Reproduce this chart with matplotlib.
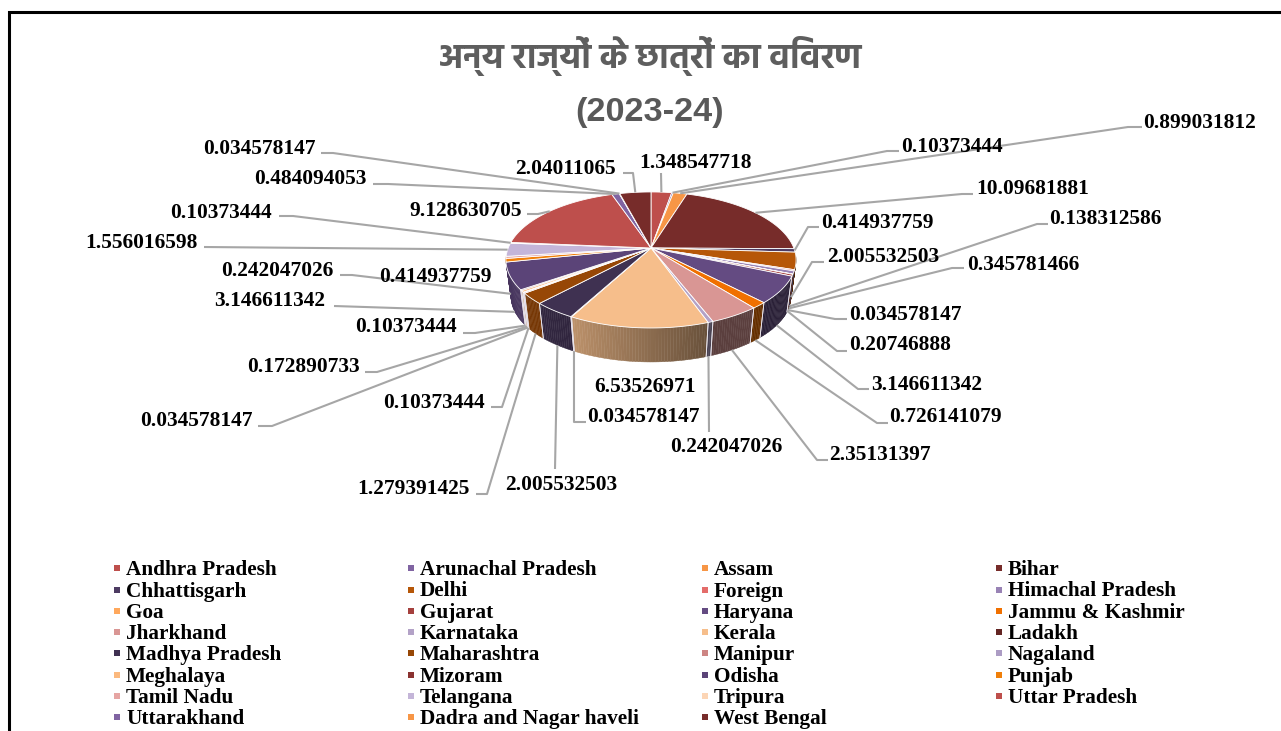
import numpy as np
import matplotlib
matplotlib.use('Agg')
import matplotlib.pyplot as plt

title_hi = 'अन्य राज्यों के छात्रों का विवरण'
title_year = '(2023-24)'

states = ['Andhra Pradesh', 'Arunachal Pradesh', 'Assam', 'Bihar', 'Chhattisgarh', 'Delhi', 'Foreign',
          'Himachal Pradesh', 'Goa', 'Gujarat', 'Haryana', 'Jammu & Kashmir', 'Jharkhand', 'Karnataka',
          'Kerala', 'Ladakh', 'Madhya Pradesh', 'Maharashtra', 'Manipur', 'Nagaland', 'Meghalaya',
          'Mizoram', 'Odisha', 'Punjab', 'Tamil Nadu', 'Telangana', 'Tripura', 'Uttar Pradesh',
          'Uttarakhand', 'Dadra and Nagar haveli', 'West Bengal']
values = [1.348547718, 0.10373444, 0.899031812, 10.09681881, 0.414937759, 2.005532503, 0.138312586,
          0.345781466, 0.034578147, 0.20746888, 3.146611342, 0.726141079, 2.35131397, 0.242047026,
          6.53526971, 0.034578147, 2.005532503, 1.279391425, 0.10373444, 0.034578147, 0.172890733,
          0.10373444, 3.146611342, 0.414937759, 0.242047026, 1.556016598, 0.10373444, 9.128630705,
          0.484094053, 0.034578147, 2.04011065]
colors = ['#BE4F4C', '#8064A2', '#F79646', '#772C2A', '#4D3B62', '#B65708', '#E46C6A', '#9983B5',
          '#FFA85C', '#A5403D', '#644B82', '#F07000', '#D99694', '#B3A2C7', '#F6BE8B', '#632523',
          '#3F3151', '#974706', '#CD8583', '#AC9CC4', '#FBB97E', '#8A3230', '#5B4478', '#F07F09',
          '#E6A5A3', '#C4B5D8', '#FCD5B5', '#BE4F4C', '#8064A2', '#F79646', '#772C2A']

# label left x / centre y, then the leader's elbow and end near the label (None = no leader)
label_xy = [(640, 161), (902, 145), (1144, 121), (977, 187), (822, 221), (828, 255), (1050, 217),
            (968, 263), (850, 313), (850, 343), (872, 383), (890, 415), (830, 453), (671, 445),
            (595, 385), (588, 415), (506, 483), (358, 487), (384, 401), (141, 419), (248, 365),
            (356, 325), (215, 299), (380, 275), (222, 269), (86, 241), (171, 211), (410, 209),
            (255, 177), (204, 147), (516, 167)]
leaders = [[(661, 173)], [(887, 151), (899, 151)], [(1128, 127), (1142, 127)], [(962, 194), (973, 194)],
           [(808, 227), (819, 227)], [(812, 262), (824, 262)], [(1037, 224), (1048, 224)],
           [(952, 268), (964, 268)], [(835, 319), (847, 319)], [(837, 351), (847, 351)],
           [(858, 389), (869, 389)], [(877, 423), (888, 423)], [(817, 460), (828, 460)], [(709, 432)],
           None, [(574, 422), (586, 422)], [(555, 469)], [(487, 494), (476, 494)],
           [(502, 407), (491, 407)], [(272, 426), (258, 426)], [(377, 372), (365, 372)],
           [(475, 333), (463, 333)], [(334, 306)], None, [(352, 275), (340, 275)], [(204, 247)],
           [(293, 216), (279, 216)], [(538, 214), (527, 214)], [(388, 184), (373, 184)],
           [(333, 153), (321, 153)], [(633, 173), (623, 173)]]

# pie camera
CX, CY = 651, 248
A, B, K = 142.8, 65.9, 0.176
DROP, SHRINK = 36.8, 0.965


def rim(theta, lower=False):
    t = np.radians(theta)
    w = 1 + K * np.cos(t)
    s = SHRINK if lower else 1.0
    d = DROP if lower else 0.0
    return CX + s * A * np.sin(t) / w, CY + d - s * B * np.cos(t) / w


def side_shade(theta):
    return np.interp(theta, [160, 210], [0.42, 0.78])


fig = plt.figure(figsize=(12.81, 7.31), dpi=100)
ax = fig.add_axes([0, 0, 1, 1])
ax.set_xlim(0, 1281)
ax.set_ylim(731, 0)
ax.axis('off')

# frame
ax.plot([9, 9, 1281], [731, 11.5, 11.5], color='black', lw=2.2, solid_joinstyle='miter')

ax.text(650, 56, title_hi, family='Hind', weight='bold', fontsize=24.8, color='#5E5E5E', ha='center', va='center')
ax.text(650, 112, title_year, family='Liberation Sans', weight='bold', fontsize=24.7, color='#595959',
        ha='center', va='center')

edges = np.concatenate([[0], np.cumsum(values)]) / sum(values) * 360
mids = (edges[:-1] + edges[1:]) / 2

# sides, outermost first so the front ones end up on top
order = sorted(range(len(values)), key=lambda i: -abs(mids[i] - 180))
for i in order:
    lo, hi = max(edges[i], 95), min(edges[i + 1], 265)
    if lo >= hi:
        continue
    steps = np.linspace(lo, hi, max(2, int(hi - lo) + 2))
    rgb = np.array(matplotlib.colors.to_rgb(colors[i]))
    for a, b in zip(steps[:-1], steps[1:]):
        ta = np.linspace(a, b, 3)
        xt, yt = rim(ta)
        xb, yb = rim(ta[::-1], lower=True)
        c = rgb * side_shade((a + b) / 2)
        ax.fill(np.r_[xt, xb], np.r_[yt, yb], color=c, lw=0.3, zorder=2)
    for e in (edges[i], edges[i + 1]):
        if 112 < e < 255:
            xt, yt = rim(e)
            xb, yb = rim(e, lower=True)
            ax.plot([xt, xb], [yt, yb], color='#E8E4EC', lw=0.6, zorder=2.5)

# top of the pie
for i in range(len(values)):
    th = np.linspace(edges[i], edges[i + 1], max(3, int(edges[i + 1] - edges[i]) * 2 + 2))
    x, y = rim(th)
    ax.fill(np.r_[CX, x], np.r_[CY, y], facecolor=colors[i], edgecolor='white', lw=0.6, zorder=3)

# leaders and value labels
for i, v in enumerate(values):
    if leaders[i] is not None:
        m = mids[i]
        x0, y0 = rim(m, lower=97 < m < 265)
        px = [x0] + [p[0] for p in leaders[i]]
        py = [y0] + [p[1] for p in leaders[i]]
        ax.plot(px, py, color='#A6A6A6', lw=1.5, zorder=4, solid_capstyle='butt')
    ax.text(label_xy[i][0] - 1, label_xy[i][1] + 7, str(v), family='Liberation Serif', weight='bold',
            fontsize=15.4, color='black', ha='left', va='baseline', zorder=5)

# legend, row by row
col_x = [117, 411, 705, 999]
row_y = [568, 589.5, 611, 632, 653, 675, 696, 717]
for i, name in enumerate(states):
    r, c = divmod(i, 4)
    ax.scatter(col_x[c], row_y[r], marker='s', s=20, color=colors[i], linewidths=0, zorder=5)
    ax.text(col_x[c] + 9, row_y[r] + 7, name, family='Liberation Serif', weight='bold', fontsize=15.3,
            color='black', ha='left', va='baseline', zorder=5)

fig.savefig('out.png', dpi=100, facecolor='white')
